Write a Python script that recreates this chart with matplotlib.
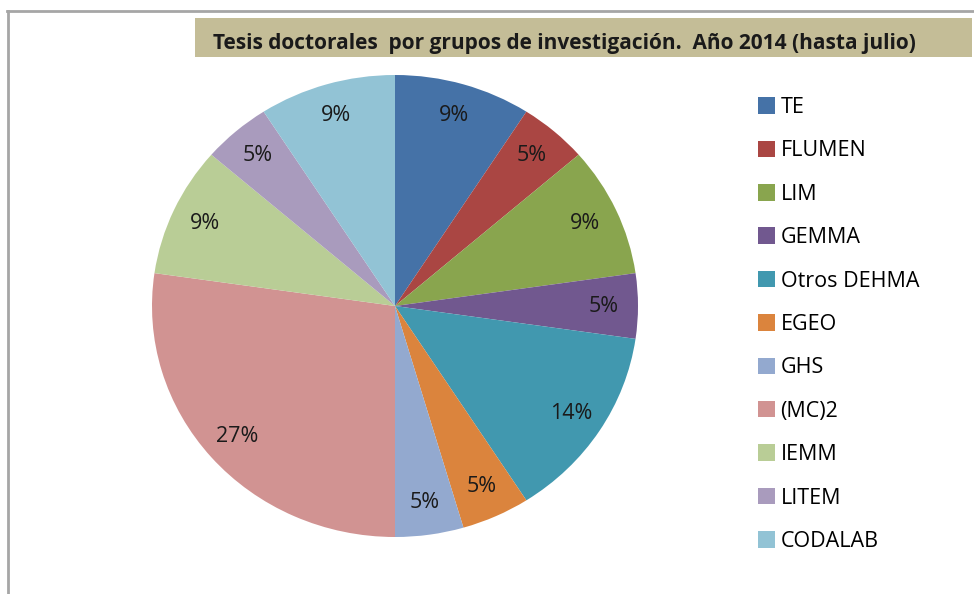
import matplotlib.pyplot as plt
from matplotlib.patches import Rectangle, Patch
from matplotlib.lines import Line2D

plt.rcParams['font.family'] = ['Open Sans', 'DejaVu Sans']

grupos = ['TE', 'FLUMEN', 'LIM', 'GEMMA', 'Otros DEHMA', 'EGEO', 'GHS',
          '(MC)2', 'IEMM', 'LITEM', 'CODALAB']
tesis = [2, 1, 2, 1, 3, 1, 1, 6, 2, 1, 2]
colores = ['#4572A7', '#AA4643', '#89A54E', '#71588F', '#4198AF', '#DB843D',
           '#93A9CF', '#D19392', '#B9CD96', '#A99BBD', '#92C3D5']
titulo = 'Tesis doctorales  por grupos de investigación.  Año 2014 (hasta julio)'

W, H = 974, 594
fig = plt.figure(figsize=(W / 100, H / 100), dpi=100)

# chart frame (gray border at top and left)
fig.add_artist(Line2D([8 / W, 8 / W], [0, 1 - 11 / H], color='#a6a6a6', lw=2))
fig.add_artist(Line2D([7 / W, 1], [1 - 11 / H, 1 - 11 / H], color='#a6a6a6', lw=2))

# title box
fig.add_artist(Rectangle((195 / W, 1 - 57 / H), (972 - 195) / W, 39 / H,
                         transform=fig.transFigure, facecolor='#C4BD97',
                         edgecolor='none'))
fig.text(213 / W, 1 - 43 / H, titulo, fontsize=15, fontweight='bold',
         va='center', ha='left', color='#1a1a1a')

ax = fig.add_axes([152 / W, 57 / H, 486 / W, 462 / H])
wedges, _, pcts = ax.pie(tesis, colors=colores, startangle=90, counterclock=False,
                         autopct='%1.0f%%', pctdistance=0.86,
                         wedgeprops=dict(linewidth=0),
                         textprops=dict(fontsize=15.5, color='#1a1a1a'))
ax.set_aspect('auto')
ax.set_xlim(-1, 1)
ax.set_ylim(-1, 1)
ax.axis('off')

handles = [Patch(facecolor=c, edgecolor='none') for c in colores]
fig.legend(handles, grupos, loc='upper left', bbox_to_anchor=(758 / W, 1 - 97 / H),
           frameon=False, fontsize=15.5, handlelength=0.8, handleheight=0.8,
           handletextpad=0.25, labelspacing=1.04, borderaxespad=0, borderpad=0)

fig.savefig('out.png', dpi=100)
